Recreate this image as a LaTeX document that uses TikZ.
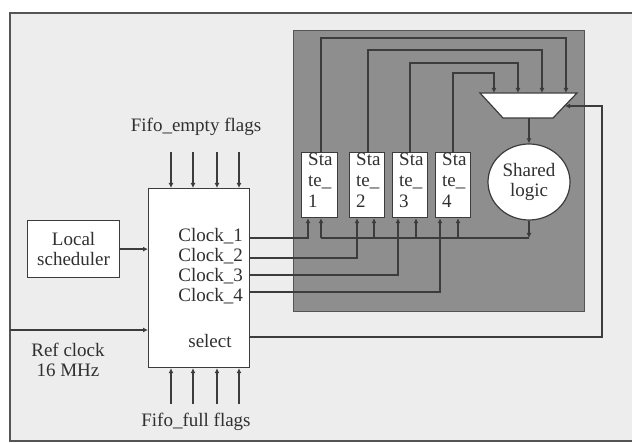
\documentclass[tikz,border=0pt]{standalone}
\usepackage{fontspec}
\setmainfont{Liberation Serif}
\usetikzlibrary{arrows.meta,shapes.geometric}
\definecolor{bgc}{HTML}{EDEDED}
\definecolor{panelc}{HTML}{8E8E8E}
\definecolor{lc}{HTML}{3C3C3C}
\definecolor{tc}{HTML}{303030}
\definecolor{fc}{HTML}{555555}
\begin{document}
\begin{tikzpicture}[x=1pt,y=-1pt,
  ln/.style={draw=lc,line width=1.2pt},
  arr/.style={ln,-{Latex[length=5pt,width=5pt]}},
  box/.style={draw=lc,line width=1.2pt,fill=white,inner sep=0pt},
  txt/.style={font=\fontsize{19}{20}\selectfont,text=tc,inner sep=0pt,align=center},
  stxt/.style={font=\fontsize{19}{21}\selectfont,text=tc,inner sep=0pt,align=left,anchor=north west}]
\useasboundingbox (0,0) rectangle (632,443);
\clip (0,0) rectangle (632,443);
\fill[white] (0,0) rectangle (632,443);
\draw[fill=bgc,draw=fc,line width=1.8pt] (10,13) rectangle (645,441);
% gray panel
\draw[fill=panelc,draw=fc,line width=0.8pt] (293,30) rectangle (584,311);

% main selector box
\node[box,minimum width=101,minimum height=179,anchor=north west] (sel) at (148,188) {};
% local scheduler
\node[box,txt,minimum width=92,minimum height=57,anchor=north west] (sch) at (27,220) {Local\\scheduler};
% states
\node[box,minimum width=36,minimum height=65,anchor=north west] (s1) at (301,152) {};
\node[box,minimum width=35,minimum height=65,anchor=north west] (s2) at (349,152) {};
\node[box,minimum width=35,minimum height=65,anchor=north west] (s3) at (392,152) {};
\node[box,minimum width=35,minimum height=65,anchor=north west] (s4) at (435,152) {};
\node[stxt] (t1) at (308,153) {Sta\\te\_\\1};
\node[stxt] (t2) at (356,153) {Sta\\te\_\\2};
\node[stxt] (t3) at (399,153) {Sta\\te\_\\3};
\node[stxt] (t4) at (442,153) {Sta\\te\_\\4};
% shared logic
\node[box,txt,ellipse,minimum width=82,minimum height=76] (sh) at (529,182) {Shared\\logic};
% mux
\draw[box] (480,93) -- (577,93) -- (553,118) -- (503,118) -- cycle;
\coordinate (m1) at (494,93);
\coordinate (m2) at (518,93);
\coordinate (m3) at (542,93);
\coordinate (m4) at (566,93);
\coordinate (mo) at (529,118);
\coordinate (ms) at (565,106);

% labels
\node[txt] (fe) at (196,127) {Fifo\_empty flags};
\node[txt] (ff) at (196,422) {Fifo\_full flags};
\node[txt] (rc) at (68,360) {Ref clock\\16 MHz};
\node[txt,anchor=east] (c1) at (243,236) {Clock\_1};
\node[txt,anchor=east] (c2) at (243,256) {Clock\_2};
\node[txt,anchor=east] (c3) at (243,276) {Clock\_3};
\node[txt,anchor=east] (c4) at (243,296) {Clock\_4};
\node[txt] (sl) at (210,341) {select};
\coordinate (rcin) at (10,330);

% fifo flag arrows
\foreach \x in {171,193,217,239} {
  \draw[arr] (\x,152) -- (sel.north -| \x,0);
  \draw[arr] (\x,404) -- (sel.south -| \x,0);
}
% scheduler and ref clock
\draw[arr] (sch.east) -- (sel.west |- sch.east);
\draw[arr] (rcin) -- (sel.west |- rcin);

% clock lines to states
\draw[arr] (sel.east |- 0,238) -| (s1.south -| 308,0);
\draw[arr] (sel.east |- 0,258) -| (s2.south -| 357,0);
\draw[arr] (sel.east |- 0,275) -| (s3.south -| 398,0);
\draw[arr] (sel.east |- 0,292) -| (s4.south -| 440,0);

% shared logic outputs back to states
\draw[arr] (sh.south) -- (529,238);
\draw[ln] (529,238) -- (321,238);
\draw[arr] (321,238) -- (s1.south -| 321,0);
\draw[arr] (374,238) -- (s2.south -| 374,0);
\draw[arr] (416,238) -- (s3.south -| 416,0);
\draw[arr] (458,238) -- (s4.south -| 458,0);

% state feedback to mux
\draw[arr] (s1.north -| 321,0) |- (m4 |- 0,38) -- (m4);
\draw[arr] (s2.north -| 368,0) |- (m3 |- 0,50) -- (m3);
\draw[arr] (s3.north -| 410,0) |- (m2 |- 0,63) -- (m2);
\draw[arr] (s4.north -| 453,0) |- (m1 |- 0,73) -- (m1);

% mux output
\draw[arr] (mo) -- (sh.north);
% select line
\draw[arr] (sel.east |- 0,337) -| (602,106) -- (ms);
\end{tikzpicture}
\end{document}
